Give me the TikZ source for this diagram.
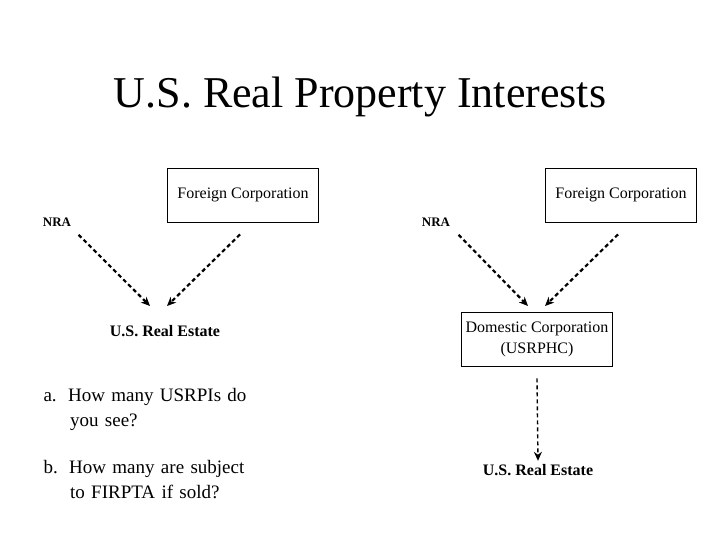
\documentclass[tikz,border=0pt]{standalone}
\usepackage{fontspec}
\setmainfont{Liberation Serif}
\usetikzlibrary{arrows.meta,positioning}

\begin{document}
\begin{tikzpicture}[
    x=1pt, y=-1pt,
    owner/.style={draw, line width=0.9pt, minimum width=151pt, minimum height=54pt, font=\fontsize{16}{21}\selectfont, align=center},
    party/.style={font=\bfseries\fontsize{13}{15}\selectfont},
    asset/.style={font=\bfseries\fontsize{16}{18}\selectfont},
    flow/.style={draw, line width=2.2pt, dash pattern=on 4pt off 3pt, -{Stealth[length=9pt,width=8pt]}},
    question/.style={font=\fontsize{19}{25}\selectfont, anchor=north west, align=left, text width=220pt},
]
\useasboundingbox (0,0) rectangle (720,540);
% title
\node (title) at (360,97) {\fontsize{44}{50}\selectfont U.S. Real Property Interests};
% left structure
\node[owner] (fcL) at (243,195) {Foreign Corporation};
\node[party] (nraL) at (57,222) {NRA};
\node[asset] (reL) at (165,331) {U.S. Real Estate};
\coordinate (tipLa) at (150,306);
\coordinate (tipLb) at (167,306);
\draw[flow] (nraL.south east) ++(4,5) -- (tipLa);
\draw[flow] (fcL.south) ++(-3,12) -- (tipLb);
% right structure
\node[owner] (fcR) at (621,195) {Foreign Corporation};
\node[party] (nraR) at (436,222) {NRA};
\node[owner] (dc) at (537,339) {Domestic Corporation\\(USRPHC)};
\node[asset] (reR) at (538,470) {U.S. Real Estate};
\coordinate (tipRa) at (528,306);
\coordinate (tipRb) at (545,306);
\draw[flow] (nraR.south east) ++(5,5) -- (tipRa);
\draw[flow] (fcR.south) ++(-3,12) -- (tipRb);
\draw[flow, line width=1.4pt] (dc.south) ++(0,12) -- (reR.north);
% questions
\node[question] (qa) at (40,385) {a.\hspace{0.6em}How many USRPIs do\\\hspace*{1.4em}you see?};
\node[question] (qb) at (40,457) {b.\hspace{0.6em}How many are subject\\\hspace*{1.4em}to FIRPTA if sold?};
\end{tikzpicture}
\end{document}
